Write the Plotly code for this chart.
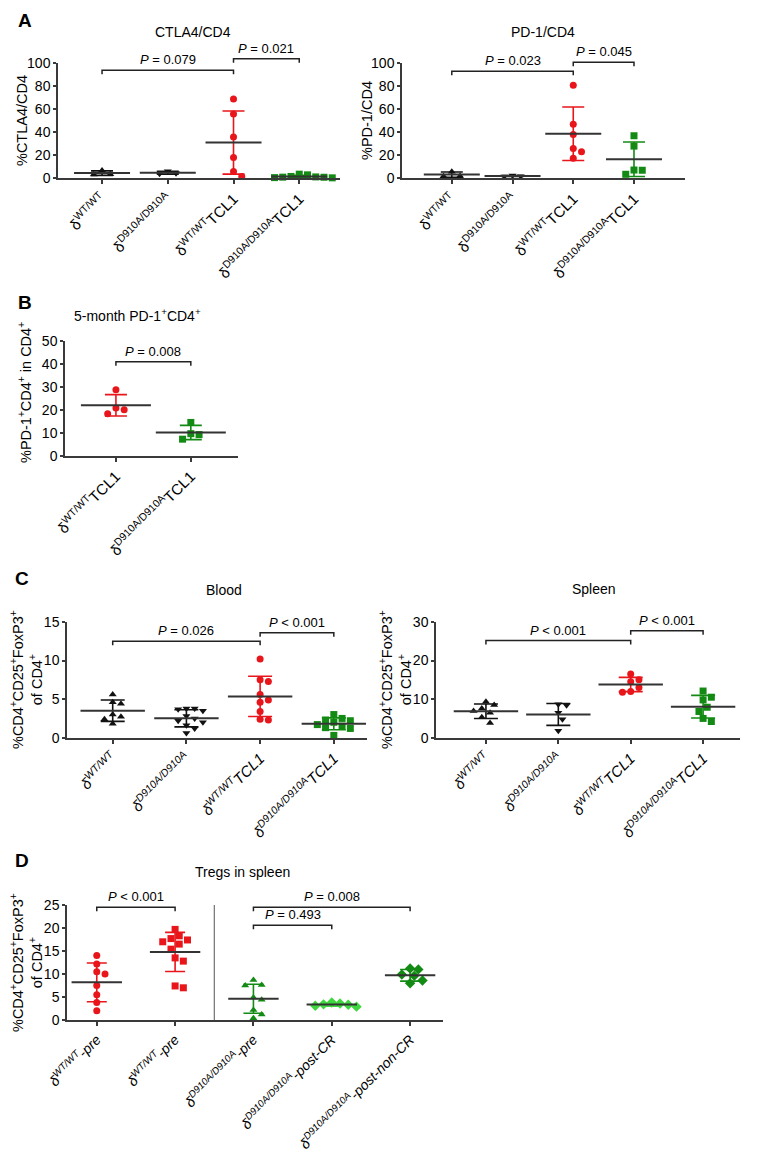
import numpy as np
import plotly.graph_objects as go

# target picture size and the page offset (browser body margin)
TW, TH = 777, 1155
OFF = 8
W, H = TW - OFF, TH - OFF

# ---------------- data ----------------
A_labels = ["δ<sup>WT/WT</sup>", "δ<sup>D910A/D910A</sup>",
            "δ<sup>WT/WT</sup>TCL1", "δ<sup>D910A/D910A</sup>TCL1"]
B_labels = ["δ<sup>WT/WT</sup>TCL1", "δ<sup>D910A/D910A</sup>TCL1"]
C_labels = ["<i>δ<sup>WT/WT</sup></i>", "<i>δ<sup>D910A/D910A</sup></i>",
            "<i>δ<sup>WT/WT</sup>TCL1</i>", "<i>δ<sup>D910A/D910A</sup>TCL1</i>"]
D_labels = ["<i>δ<sup>WT/WT</sup>-pre</i>", "<i>δ<sup>WT/WT</sup>-pre</i>",
            "<i>δ<sup>D910A/D910A</sup>-pre</i>", "<i>δ<sup>D910A/D910A</sup>-post-CR</i>",
            "<i>δ<sup>D910A/D910A</sup>-post-non-CR</i>"]

ctla4_wt = [6.8, 3.5, 3.3]
ctla4_d910a = [6.2, 4.3, 4.0]
ctla4_wt_tcl1 = [69, 56, 36, 18, 6, 1.5]
ctla4_d910a_tcl1 = [3.6, 3.0, 1.6, 1.2, 1.0, 0.9, 0.6, 0.4]

pd1_wt = [5.8, 2.0, 1.8]
pd1_d910a = [2.4, 1.8, 1.6]
pd1_wt_tcl1 = [81, 47, 38, 26, 23, 17.5]
pd1_d910a_tcl1 = [37, 28, 7.2, 7.0, 3.5]

m5_wt_tcl1 = [28.8, 20.8, 20.0, 18.3]
m5_d910a_tcl1 = [14.5, 9.6, 9.2, 7.2]

blood_wt = [5.6, 4.6, 4.4, 3.0, 2.7, 2.4, 1.8]
blood_d910a = [3.8, 3.8, 3.7, 3.5, 2.8, 2.5, 2.2, 2.0, 1.6, 1.2, 0.6]
blood_wt_tcl1 = [10.2, 7.5, 7.3, 5.6, 4.9, 4.6, 3.4, 2.4, 2.3]
blood_d910a_tcl1 = [3.0, 2.5, 2.3, 2.2, 2.0, 1.7, 1.5, 1.3, 1.2, 0.3]

spleen_wt = [9.3, 8.5, 7.6, 6.9, 6.5, 5.3, 3.8]
spleen_d910a = [8.7, 8.4, 6.5, 4.8, 1.8]
spleen_wt_tcl1 = [16.5, 15.0, 14.5, 13.0, 12.0, 11.8]
spleen_d910a_tcl1 = [12.1, 10.5, 9.8, 7.9, 6.8, 5.0, 4.2]

treg_wt_pre = [14.0, 12.2, 10.5, 10.0, 7.5, 5.5, 3.8, 2.0]
treg_wt_pre2 = [19.7, 18.3, 17.7, 17.4, 17.0, 16.5, 15.4, 13.5, 12.8, 7.4, 7.0]
treg_d910a_pre = [8.7, 7.6, 7.5, 4.9, 4.4, 2.2, 1.2, 0.4]
treg_post_cr = [3.8, 3.6, 3.4, 3.3, 3.1, 2.9]
treg_post_noncr = [11.2, 11.0, 9.9, 9.6, 8.6, 8.0]

RED = "#e8161b"
GREEN = "#138a13"
LGREEN = "#3fd63f"
BLACK = "#111111"
AXC = "#3a3a3a"
FONT = "Liberation Sans, Arial, Helvetica, sans-serif"

# panel geometry: x/y pixel extents of plot area (in target picture), data ranges
panels = {
    "A1": dict(ax=1, xpx=(58, 340), ypx=(63.3, 178.3), xr=(-0.67, 3.62), yr=(0, 100),
               yt=[0, 20, 40, 60, 80, 100], labels=A_labels, lsize=15, mw=40, cw=22),
    "A2": dict(ax=2, xpx=(402, 685), ypx=(63.3, 178.3), xr=(-0.82, 3.84), yr=(0, 100),
               yt=[0, 20, 40, 60, 80, 100], labels=A_labels, lsize=15, mw=40, cw=22),
    "B": dict(ax=3, xpx=(65, 238), ypx=(341, 455.7), xr=(-0.68, 1.63), yr=(0, 50),
              yt=[0, 10, 20, 30, 40, 50], labels=B_labels, lsize=15, mw=50, cw=22),
    "C1": dict(ax=4, xpx=(67, 367), ypx=(622, 737.7), xr=(-0.62, 3.45), yr=(0, 15),
               yt=[0, 5, 10, 15], labels=C_labels, lsize=15, mw=46, cw=24),
    "C2": dict(ax=5, xpx=(436, 740), ypx=(622, 737.7), xr=(-0.69, 3.51), yr=(0, 30),
               yt=[0, 10, 20, 30], labels=C_labels, lsize=15, mw=46, cw=24),
    "D": dict(ax=6, xpx=(67, 443), ypx=(905, 1020), xr=(-0.38, 4.42), yr=(0, 25),
              yt=[0, 5, 10, 15, 20, 25], labels=D_labels, lsize=14, mw=36, cw=20),
}

groups = {
    "A1": [(ctla4_wt, BLACK, "triangle-up"), (ctla4_d910a, BLACK, "triangle-down"),
           (ctla4_wt_tcl1, RED, "circle"), (ctla4_d910a_tcl1, GREEN, "square")],
    "A2": [(pd1_wt, BLACK, "triangle-up"), (pd1_d910a, BLACK, "triangle-down"),
           (pd1_wt_tcl1, RED, "circle"), (pd1_d910a_tcl1, GREEN, "square")],
    "B": [(m5_wt_tcl1, RED, "circle"), (m5_d910a_tcl1, GREEN, "square")],
    "C1": [(blood_wt, BLACK, "triangle-up"), (blood_d910a, BLACK, "triangle-down"),
           (blood_wt_tcl1, RED, "circle"), (blood_d910a_tcl1, GREEN, "square")],
    "C2": [(spleen_wt, BLACK, "triangle-up"), (spleen_d910a, BLACK, "triangle-down"),
           (spleen_wt_tcl1, RED, "circle"), (spleen_d910a_tcl1, GREEN, "square")],
    "D": [(treg_wt_pre, RED, "circle"), (treg_wt_pre2, RED, "square"),
          (treg_d910a_pre, GREEN, "triangle-up"), (treg_post_cr, LGREEN, "diamond"),
          (treg_post_noncr, GREEN, "diamond")],
}

titles = {
    "A1": ("CTLA4/CD4", 193, 32), "A2": ("PD-1/CD4", 543, 32),
    "B": ("5-month PD-1<sup>+</sup>CD4<sup>+</sup>", 137, 315),
    "C1": ("Blood", 224, 590), "C2": ("Spleen", 594, 589),
    "D": ("Tregs in spleen", 242, 872),
}
ytitles = {
    "A1": ("%CTLA4/CD4", 22, 121), "A2": ("%PD-1/CD4", 367, 121),
    "B": ("%PD-1<sup>+</sup>CD4<sup>+</sup> in CD4<sup>+</sup>", 25, 393),
    "C1": ("%CD4<sup>+</sup>CD25<sup>+</sup>FoxP3<sup>+</sup><br>of CD4<sup>+</sup>", 26, 680),
    "C2": ("%CD4<sup>+</sup>CD25<sup>+</sup>FoxP3<sup>+</sup><br>of CD4<sup>+</sup>", 395, 680),
    "D": ("%CD4<sup>+</sup>CD25<sup>+</sup>FoxP3<sup>+</sup><br>of CD4<sup>+</sup>", 26, 963),
}
brackets = {
    "A1": [(0, 2, 94, "<i>P</i> = 0.079"), (2, 3, 104, "<i>P</i> = 0.021")],
    "A2": [(0, 2, 93, "<i>P</i> = 0.023"), (2, 3, 101, "<i>P</i> = 0.045")],
    "B": [(0, 1, 41, "<i>P</i> = 0.008")],
    "C1": [(0, 2, 12.5, "<i>P</i> = 0.026"), (2, 3, 13.6, "<i>P</i> < 0.001")],
    "C2": [(0, 2, 25.2, "<i>P</i> < 0.001"), (2, 3, 27.7, "<i>P</i> < 0.001")],
    "D": [(0, 1, 24.5, "<i>P</i> < 0.001"), (2, 4, 24.5, "<i>P</i> = 0.008"),
          (2, 3, 20.6, "<i>P</i> = 0.493")],
}
letters = [("A", 25, 20), ("B", 25, 303), ("C", 22, 578), ("D", 22, 860)]


def px2paper(x, y):
    return (x - OFF) / W, 1 - (y - OFF) / H


def data2px(p, xv, yv):
    x0, x1 = p["xpx"]
    y0, y1 = p["ypx"]
    xr, yr = p["xr"], p["yr"]
    px = x0 + (xv - xr[0]) / (xr[1] - xr[0]) * (x1 - x0)
    py = y1 - (yv - yr[0]) / (yr[1] - yr[0]) * (y1 - y0)
    return px, py


def swarm(vals, ypu, size):
    placed = []
    offs = [0.0] * len(vals)
    order = sorted(range(len(vals)), key=lambda k: -vals[k])
    step = size * 0.55
    for k in order:
        y = vals[k] * ypu
        cands = [0.0]
        for m in range(1, 20):
            cands += [m * step, -m * step]
        for c in cands:
            if all(np.hypot(c - ox, y - oy) >= size for ox, oy in placed):
                offs[k] = c
                placed.append((c, y))
                break
    return offs


fig = go.Figure()
layout = dict(width=W, height=H, margin=dict(l=0, r=0, t=0, b=0, autoexpand=False),
              autosize=False, template="none",
              plot_bgcolor="white", paper_bgcolor="white", showlegend=False,
              font=dict(family=FONT, color="black", size=13))
shapes, annotations = [], []

for key, p in panels.items():
    n = p["ax"]
    xs = "" if n == 1 else str(n)
    xname, yname = "x" + xs, "y" + xs
    xpu = (p["xpx"][1] - p["xpx"][0]) / (p["xr"][1] - p["xr"][0])
    ypu = (p["ypx"][1] - p["ypx"][0]) / (p["yr"][1] - p["yr"][0])
    xa, yb_ = px2paper(p["xpx"][0], p["ypx"][1])
    xb, ya_ = px2paper(p["xpx"][1], p["ypx"][0])
    layout["xaxis" + xs] = dict(domain=(xa, xb), range=list(p["xr"]), anchor=yname,
                                automargin=False,
                                tickvals=list(range(len(p["labels"]))), ticktext=p["labels"],
                                tickangle=-45, ticks="outside", ticklen=4, tickwidth=1.5,
                                tickcolor=AXC, showline=True, linecolor=AXC, linewidth=2,
                                showgrid=False, zeroline=False,
                                tickfont=dict(size=p["lsize"], color="black", family=FONT))
    layout["yaxis" + xs] = dict(domain=(yb_, ya_), range=list(p["yr"]), anchor=xname,
                                automargin=False,
                                tickvals=p["yt"], ticks="outside", ticklen=3, tickwidth=1.5,
                                tickcolor=AXC, showline=True, linecolor=AXC, linewidth=1.5,
                                showgrid=False, zeroline=False,
                                tickfont=dict(size=14, color="black", family=FONT))
    for i, (vals, col, sym) in enumerate(groups[key]):
        v = np.array(vals, dtype=float)
        mean, sd = v.mean(), v.std(ddof=1)
        offs = swarm(vals, ypu, 7.5)
        # SD bar
        fig.add_trace(go.Scatter(x=[i], y=[mean], mode="markers", xaxis=xname, yaxis=yname,
                                 marker=dict(size=1, opacity=0),
                                 error_y=dict(type="data", array=[sd], visible=True,
                                              color=col, thickness=1.6, width=p["cw"] / 2),
                                 hoverinfo="skip"))
        # points
        fig.add_trace(go.Scatter(x=[i + o / xpu for o in offs], y=vals, mode="markers",
                                 xaxis=xname, yaxis=yname, cliponaxis=False,
                                 marker=dict(symbol=sym, size=7 if sym != "diamond" else 8,
                                             color=col, line=dict(width=0))))
        # mean line
        fig.add_trace(go.Scatter(x=[i], y=[mean], mode="markers", xaxis=xname, yaxis=yname,
                                 cliponaxis=False,
                                 marker=dict(symbol="line-ew", size=p["mw"],
                                             line=dict(width=2, color="#333333"))))
    # brackets
    for (i0, i1, yv, txt) in brackets[key]:
        x0, yb = data2px(p, i0, yv)
        x1, _ = data2px(p, i1, yv)
        a0, b0 = px2paper(x0, yb + 4)
        a1, b1 = px2paper(x0, yb)
        a2, _ = px2paper(x1, yb)
        shapes.append(dict(type="path", xref="paper", yref="paper",
                           path=f"M {a0} {b0} L {a1} {b1} L {a2} {b1} L {a2} {b0}",
                           line=dict(color="#222222", width=1.5)))
        tx, ty = px2paper((x0 + x1) / 2, yb - 1)
        annotations.append(dict(x=tx, y=ty, xref="paper", yref="paper", text=txt,
                                showarrow=False, xanchor="center", yanchor="bottom",
                                font=dict(size=13, family=FONT, color="black")))
    t, tx, ty = titles[key]
    ax_, ay_ = px2paper(tx, ty)
    annotations.append(dict(x=ax_, y=ay_, xref="paper", yref="paper", text=t, showarrow=False,
                            xanchor="center", yanchor="middle",
                            font=dict(size=14, family=FONT, color="black")))
    t, tx, ty = ytitles[key]
    ax_, ay_ = px2paper(tx, ty)
    annotations.append(dict(x=ax_, y=ay_, xref="paper", yref="paper", text=t, showarrow=False,
                            textangle=-90, xanchor="center", yanchor="middle",
                            font=dict(size=14.5, family=FONT, color="black")))

# separator line in panel D
shapes.append(dict(type="line", xref="x6", yref="y6", x0=1.5, x1=1.5, y0=0, y1=25,
                   line=dict(color="#555555", width=1)))

for (t, x, y) in letters:
    ax_, ay_ = px2paper(x, y)
    annotations.append(dict(x=ax_, y=ay_, xref="paper", yref="paper", text="<b>" + t + "</b>",
                            showarrow=False, xanchor="center", yanchor="middle",
                            font=dict(size=19, family=FONT, color="black")))

layout["shapes"] = shapes
layout["annotations"] = annotations
fig.update_layout(**layout)
fig.write_html("out.html")
